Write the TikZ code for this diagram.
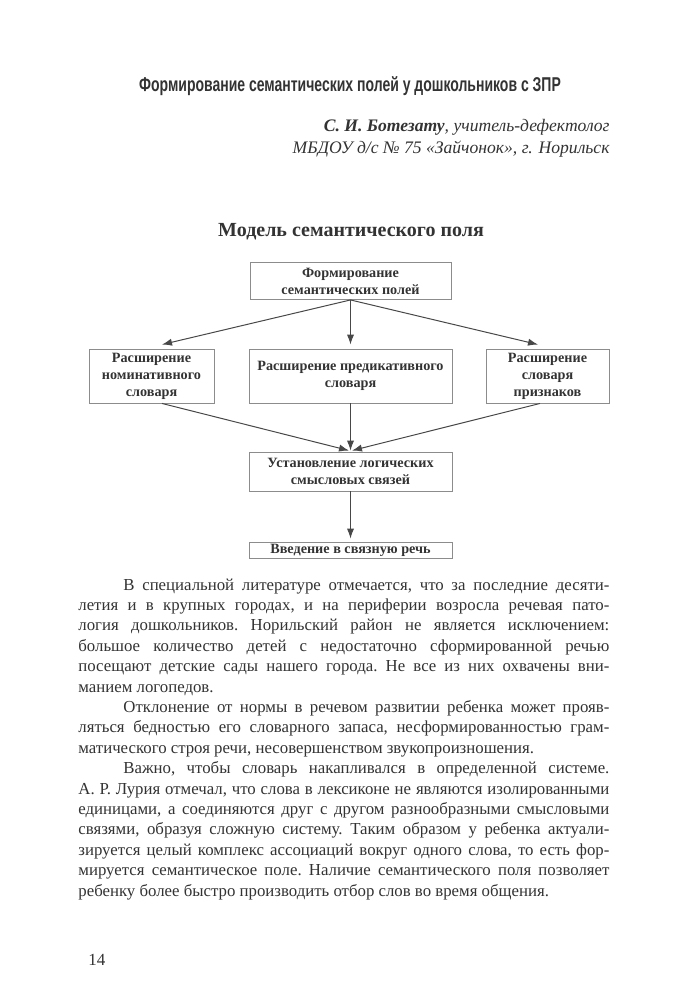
\documentclass[tikz,border=0pt]{standalone}
\usepackage{fontspec}
\setmainfont{Liberation Serif}
\newfontfamily\headfont[FakeStretch=0.7]{Liberation Sans}
\usetikzlibrary{arrows.meta}

\definecolor{ink}{HTML}{333333}
\definecolor{frame}{HTML}{8C8C8C}
\definecolor{arrowink}{HTML}{484848}

\tikzset{
  box/.style={draw=frame,line width=0.45pt,align=center,inner sep=0pt,text=ink,
    font=\fontsize{7.1}{8.5}\selectfont\bfseries},
  arr/.style={draw=arrowink,line width=0.5pt,-{Latex[length=5pt,width=3.6pt]}},
  plain/.style={text=ink,inner sep=0pt},
}

\begin{document}
\begin{tikzpicture}[x=0.5pt,y=-0.5pt]
	\useasboundingbox[fill=white] (0,0) rectangle (678,1000);

	% heading of the article
	\node[plain,anchor=base,font=\headfont\fontsize{10}{11}\selectfont\bfseries] (head) at (350,92) {Формирование семантических полей у дошкольников с ЗПР};
	\node[plain,anchor=base east,font=\fontsize{8.8}{10}\selectfont] (author) at (610,132) {\textbf{\textit{С. И. Ботезату}}\textit{, учитель-дефектолог}};
	\node[plain,anchor=base east,font=\fontsize{8.8}{10}\selectfont] (place) at (610,154) {\textit{МБДОУ д/с №~75 «Зайчонок», г. Норильск}};

	% the model
	\node[plain,anchor=base,font=\fontsize{10}{12}\selectfont\bfseries] (title) at (351,236) {Модель семантического поля};

	\node[box,minimum width=100.5pt,minimum height=18.5pt] (form) at (350.5,281) {Формирование\\семантических полей};
	\node[box,minimum width=62.5pt,minimum height=27pt] (nom) at (151.5,376) {Расширение\\номинативного\\словаря};
	\node[box,minimum width=101.5pt,minimum height=27pt] (pred) at (350.5,376) {Расширение предикативного\\словаря};
	\node[box,minimum width=61.5pt,minimum height=27pt] (prizn) at (547.5,376) {Расширение\\словаря\\признаков};
	\node[box,minimum width=101.5pt,minimum height=19.5pt] (svyaz) at (350.5,471.5) {Установление логических\\смысловых связей};
	\node[box,minimum width=101.5pt,minimum height=8pt] (rech) at (350.5,550) {Введение в связную речь};

	\draw[arr] (form.south) -- ([xshift=5.25pt,yshift=2pt]nom.north);
	\draw[arr] (form.south) -- ([yshift=2pt]pred.north);
	\draw[arr] (form.south) -- ([xshift=-4.75pt,yshift=2pt]prizn.north);
	\draw[arr] ([xshift=5.25pt]nom.south) -- ([xshift=-0.75pt,yshift=0.5pt]svyaz.north);
	\draw[arr] (pred.south) -- ([yshift=0.5pt]svyaz.north);
	\draw[arr] ([xshift=-3.75pt]prizn.south) -- ([xshift=0.75pt,yshift=0.5pt]svyaz.north);
	\draw[arr] (svyaz.south) -- ([yshift=1.5pt]rech.north);

	% running text
	\node[plain,anchor=base west,text width=265.5pt,align=justify,font=\fontsize{8.4}{10.2}\selectfont] (body) at (78,590) {%
		\frenchspacing\tolerance=10000 \hyphenpenalty=10000 \parskip=0pt
		\hspace*{22.5pt}В специальной литературе отмечается, что за последние десяти-\linebreak
		летия и в крупных городах, и на периферии возросла речевая пато-\linebreak
		логия дошкольников. Норильский район не является исключением:\linebreak
		большое количество детей с недостаточно сформированной речью\linebreak
		посещают детские сады нашего города. Не все из них охвачены вни-\linebreak
		манием логопедов.\par
		\hspace*{22.5pt}Отклонение от нормы в речевом развитии ребенка может прояв-\linebreak
		ляться бедностью его словарного запаса, несформированностью грам-\linebreak
		матического строя речи, несовершенством звукопроизношения.\par
		\hspace*{22.5pt}Важно, чтобы словарь накапливался в определенной системе.\linebreak
		А.~Р.~Лурия отмечал, что слова в лексиконе не являются изолированными\linebreak
		единицами, а соединяются друг с другом разнообразными смысловыми\linebreak
		связями, образуя сложную систему. Таким образом у ребенка актуали-\linebreak
		зируется целый комплекс ассоциаций вокруг одного слова, то есть фор-\linebreak
		мируется семантическое поле. Наличие семантического поля позволяет\linebreak
		ребенку более быстро производить отбор слов во время общения.\par};

	\node[plain,anchor=base west,font=\fontsize{8.5}{10}\selectfont] (pagenum) at (88,965) {14};
\end{tikzpicture}
\end{document}
